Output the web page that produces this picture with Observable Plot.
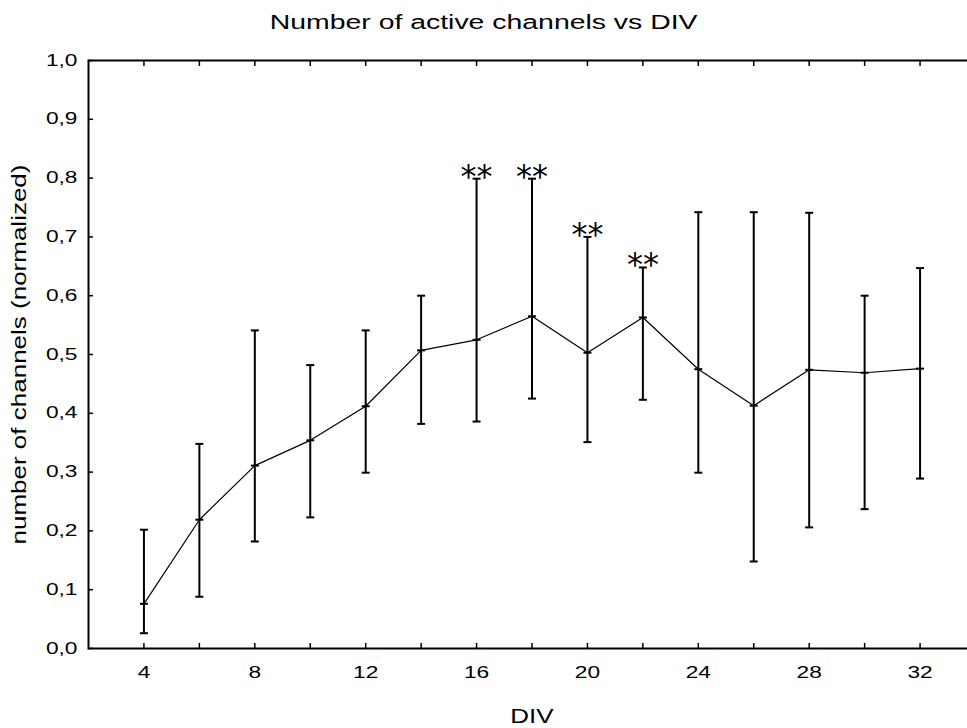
<!DOCTYPE html>
<html>
<head>
<meta charset="utf-8">
<script src="https://cdn.jsdelivr.net/npm/d3@7"></script>
<script src="https://cdn.jsdelivr.net/npm/@observablehq/plot@0.6"></script>
<style>
  html, body { margin: 0; padding: 0; background: #fff; overflow: hidden; }
  #title { height: 38px; padding-top: 2px; line-height: 40px; text-align: center;
           font-family: "Liberation Sans", Arial, sans-serif; font-size: 20px; color: #000; }
  #title span { display: inline-block; transform: scaleX(1.42); transform-origin: 50% 50%; }
</style>
</head>
<body>
<div id="title"><span>Number of active channels vs DIV</span></div>
<div id="chart"></div>
<script>
// Data
const div   = [4, 6, 8, 10, 12, 14, 16, 18, 20, 22, 24, 26, 28, 30, 32];
const mean  = [0.076, 0.219, 0.311, 0.354, 0.412, 0.507, 0.525, 0.565, 0.503, 0.563, 0.475, 0.413, 0.474, 0.469, 0.476];
const upper = [0.202, 0.348, 0.541, 0.482, 0.541, 0.600, 0.799, 0.799, 0.700, 0.648, 0.742, 0.742, 0.741, 0.600, 0.647];
const lower = [0.026, 0.088, 0.182, 0.223, 0.299, 0.382, 0.386, 0.425, 0.351, 0.423, 0.299, 0.148, 0.206, 0.237, 0.289];
const starred = [16, 18, 20, 22];
const starText = "**";
const yTicks = [0, 0.1, 0.2, 0.3, 0.4, 0.5, 0.6, 0.7, 0.8, 0.9, 1.0];
const xTicks = [4, 6, 8, 10, 12, 14, 16, 18, 20, 22, 24, 26, 28, 30, 32];
const xLabels = [4, 8, 12, 16, 20, 24, 28, 32];
const xTitle = "DIV";
const yTitle = "number of channels (normalized)";

const data = div.map((x, i) => ({x, m: mean[i], lo: lower[i], hi: upper[i]}));
const starData = data.filter(d => starred.includes(d.x));

const hline = {
  draw(ctx, size) {
    const r = Math.sqrt(size / Math.PI);
    ctx.moveTo(-r, 0);
    ctx.lineTo(r, 0);
  }
};
const fmt = d => d3.format(".1f")(d).replace(".", ",");
const font = "Liberation Sans, Arial, sans-serif";

const chart = Plot.plot({
  width: 967,
  height: 688,
  marginLeft: 88,
  marginRight: -8,
  marginTop: 20,
  marginBottom: 80,
  style: {fontFamily: font, color: "#000", background: "#fff", overflow: "hidden"},
  x: {domain: [2, 34]},
  y: {domain: [0, 1]},
  marks: [
    Plot.frame({stroke: "#000", strokeWidth: 2}),
    Plot.axisY({ticks: yTicks, tickSize: -5, tickPadding: 16, tickFormat: fmt, fontSize: 16, label: null, strokeWidth: 1.5}),
    Plot.axisX({ticks: xTicks, tickSize: -5, tickFormat: () => "", label: null, strokeWidth: 1.5}),
    Plot.axisX({anchor: "top", ticks: xTicks, tickSize: -5, tickFormat: () => "", label: null, strokeWidth: 1.5}),
    Plot.axisX({ticks: xLabels, tickSize: 0, tickPadding: 18, tickFormat: d => String(d), fontSize: 16, label: null}),
    Plot.line(data, {x: "x", y: "m", stroke: "#000", strokeWidth: 1.2}),
    Plot.ruleX(data, {x: "x", y1: "lo", y2: "hi", stroke: "#000", strokeWidth: 2}),
    Plot.dot(data, {x: "x", y: "lo", symbol: hline, r: 4, stroke: "#000", strokeWidth: 2}),
    Plot.dot(data, {x: "x", y: "hi", symbol: hline, r: 4, stroke: "#000", strokeWidth: 2}),
    Plot.dot(data, {x: "x", y: "m", symbol: hline, r: 4, stroke: "#000", strokeWidth: 2}),
    Plot.text(starData, {x: "x", y: "hi", text: () => starText, fontSize: 32, fontFamily: "DejaVu Sans", lineAnchor: "bottom", dy: 8, fill: "#000"}),
    Plot.text([xTitle], {frameAnchor: "bottom", lineAnchor: "bottom", dy: 74, fontSize: 20, fill: "#000"}),
    Plot.text([yTitle], {frameAnchor: "left", rotate: -90, textAnchor: "middle", lineAnchor: "bottom", dx: -63, fontSize: 20, fill: "#000"})
  ]
});

// Widen glyphs horizontally (along the text direction) to match the stretched original lettering
function stretch(sel, sx) {
  sel.each(function() {
    const t = this.getAttribute("transform");
    if (t) {
      this.setAttribute("transform", t + ` scale(${sx},1)`);
    } else {
      const x = +(this.getAttribute("x") || 0), y = +(this.getAttribute("y") || 0);
      this.removeAttribute("x"); this.removeAttribute("y");
      this.setAttribute("transform", `translate(${x},${y}) scale(${sx},1)`);
    }
  });
}
const svg = d3.select(chart);
stretch(svg.selectAll("g[aria-label='y-axis tick label'] text, g[aria-label='x-axis tick label'] text"), 1.42);
stretch(svg.selectAll("text").filter(function() { return this.textContent === xTitle; }), 1.3);
stretch(svg.selectAll("text").filter(function() { return this.textContent === yTitle; }), 1.3);
document.getElementById("chart").appendChild(chart);
</script>
</body>
</html>
